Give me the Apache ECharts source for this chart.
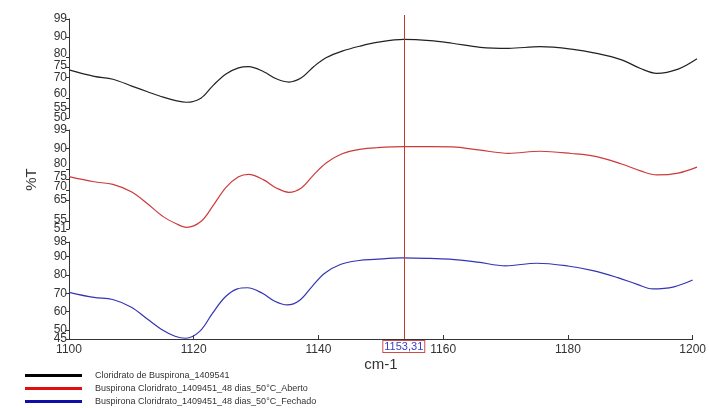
<!DOCTYPE html>
<html><head><meta charset="utf-8">
<script src="https://cdn.jsdelivr.net/npm/echarts@6/dist/echarts.min.js"></script>
<style>html,body{margin:0;padding:0;background:#fff}#c{width:709px;height:408px}</style>
</head><body><div id="c"></div>
<script>
const wavenumbers = [1100,1104,1107,1110,1112.5,1115,1117,1118.7,1121,1123,1125,1127,1128.6,1131,1133,1135,1137,1139,1141,1143.5,1146.5,1149,1153.3,1157.5,1161,1165.5,1170,1175,1180,1184,1188,1191,1193.6,1197,1200];
const blackT = [73.8,70.6,69.2,65.8,63.0,60.3,58.6,57.8,59.8,66.3,71.8,74.8,75.4,72.9,69.4,67.8,69.9,75.5,79.9,83.1,85.7,87.4,88.9,88.3,87.0,85.0,84.5,85.3,84.1,82.0,78.8,74.5,72.1,74.2,79.3];
const redT = [76.4,73.9,72.6,68.9,63.2,57.0,53.7,51.8,54.6,62.6,71.2,76.3,77.5,74.8,70.9,68.8,70.9,77.4,83.1,87.5,89.7,90.4,90.9,90.9,90.8,89.2,87.7,88.7,87.6,86.1,82.5,79.2,77.2,78.1,81.0];
const blueT = [70.5,67.7,66.6,62.4,56.1,49.9,46.5,45.4,49.3,59.0,67.8,72.4,73.0,70.0,65.6,63.6,66.2,73.8,80.9,85.7,87.9,88.5,89.3,89.1,88.6,87.0,85.0,86.4,84.9,82.4,78.5,75.0,72.4,73.5,77.2];
const seriesNames = ['Cloridrato de Buspirona_1409541','Buspirona Cloridrato_1409451_48 dias_50°C_Aberto','Buspirona Cloridrato_1409451_48 dias_50°C_Fechado'];
const yTicksTop = [50,55,60,70,75,80,90,99];
const yTicksMid = [51,55,65,70,75,80,90,99];
const yTicksBot = [45,50,60,70,80,90,98];
const yCrowdedTop = [55];
const yCrowdedMid = [55];
const yCrowdedBot = [50];
const xTicks = [1100,1120,1140,1160,1180,1200];
const markerX = 1153.31;
const markerLabel = '1153,31';

const pair = arr => wavenumbers.map((x,i)=>[x,arr[i]]);
const font = 'Arial, "Liberation Sans", sans-serif';
// label nudges (px upward) to mimic the reference's label placement
const nudgeTop = {80:4,75:2,60:4};
const nudgeMid = {80:6,75:3,70:3};
const rich = {};
[2,3,4,5,6,8,10,12].forEach(p=>{rich['u'+p]={padding:[0,0,p,0],fontSize:12,lineHeight:8,color:'#333',fontFamily:font};});
function yAx(idx,min,max,ticks,crowded,nudge,extra){
  const main = ticks.filter(t=>crowded.indexOf(t)<0);
  return Object.assign({type:'value',gridIndex:idx,min:min,max:max,position:'left',
    axisLine:{show:true,lineStyle:{color:'#333',width:1}},
    axisTick:{show:true,inside:false,length:3,customValues:ticks,lineStyle:{color:'#333'}},
    axisLabel:{customValues:main,margin:2,fontSize:12,lineHeight:8,color:'#333',fontFamily:font,
      showMinLabel:true,showMaxLabel:true,hideOverlap:false,
      rich:rich,
      formatter:v=>{const n=nudge&&nudge[v];return n?('{u'+(2*n)+'|'+v+'}'):String(v);}},
    splitLine:{show:false}},extra||{});
}
function yAxExtra(idx,min,max,vals,nudge){
  return {type:'value',gridIndex:idx,min:min,max:max,position:'left',offset:0,
    axisLine:{show:false},axisTick:{show:false},splitLine:{show:false},
    axisLabel:{customValues:vals,margin:2,fontSize:12,lineHeight:8,color:'#333',fontFamily:font,rich:rich,
      formatter:v=>{const n=nudge&&nudge[v];return n?('{u'+(2*n)+'|'+v+'}'):String(v);}}};
}
const legendRow = (i,top,color)=>({orient:'horizontal',left:25,top:top,padding:0,itemWidth:57,itemHeight:3,icon:'rect',
  textStyle:{fontSize:9,color:'#333',fontFamily:font,padding:[0,0,0,8]},
  data:[{name:seriesNames[i],itemStyle:{color:color}}]});
const chart = echarts.init(document.getElementById('c'));
chart.setOption({
  animation:false,
  grid:[
    {left:69,right:12,top:19,height:99},
    {left:69,right:12,top:130,height:99},
    {left:69,right:12,top:242,height:97},
    {left:69,right:12,top:15,height:324}
  ],
  xAxis:[
    {type:'value',gridIndex:0,min:1100,max:1200,show:false},
    {type:'value',gridIndex:1,min:1100,max:1200,show:false},
    {type:'value',gridIndex:2,min:1100,max:1200,interval:20,
      axisLine:{lineStyle:{color:'#333'}},
      axisTick:{inside:true,length:4,lineStyle:{color:'#333'}},
      axisLabel:{customValues:xTicks,fontSize:12,color:'#333',margin:5,fontFamily:font,formatter:v=>String(v)},
      splitLine:{show:false},
      name:'cm-1',nameLocation:'middle',nameGap:17,
      nameTextStyle:{fontSize:15,color:'#333',fontFamily:font}},
    {type:'value',gridIndex:3,min:1100,max:1200,show:false}
  ],
  yAxis:[
    yAx(0,50,99,yTicksTop,yCrowdedTop,nudgeTop),
    yAx(1,51,99,yTicksMid,yCrowdedMid,nudgeMid,{name:'%T',nameLocation:'middle',nameGap:30,nameRotate:90,
      nameTextStyle:{fontSize:15,color:'#333',fontFamily:font}}),
    yAx(2,45,98,yTicksBot,yCrowdedBot,null),
    {type:'value',gridIndex:3,min:0,max:1,show:false},
    yAxExtra(0,50,99,yCrowdedTop,null),
    yAxExtra(1,51,99,yCrowdedMid,{55:1}),
    yAxExtra(2,45,98,yCrowdedBot,null)
  ],
  legend:[
    legendRow(0,371,'#000'),
    legendRow(1,384,'#e01010'),
    legendRow(2,397,'#1010a8')
  ],
  series:[
    {name:seriesNames[0],type:'line',xAxisIndex:0,yAxisIndex:0,data:pair(blackT),smooth:0.35,symbol:'none',
      lineStyle:{color:'#222',width:1.2},itemStyle:{color:'#000'}},
    {name:seriesNames[1],type:'line',xAxisIndex:1,yAxisIndex:1,data:pair(redT),smooth:0.35,symbol:'none',
      lineStyle:{color:'#cc3b3b',width:1.2},itemStyle:{color:'#e01010'}},
    {name:seriesNames[2],type:'line',xAxisIndex:2,yAxisIndex:2,data:pair(blueT),smooth:0.35,symbol:'none',
      lineStyle:{color:'#3434b4',width:1.2},itemStyle:{color:'#1010a8'}},
    {name:'marker',type:'line',xAxisIndex:3,yAxisIndex:3,data:[[1100,0.5]],symbol:'none',
      lineStyle:{width:0,opacity:0},silent:true,
      markLine:{silent:true,symbol:['none','none'],animation:false,
        lineStyle:{color:'#c0392b',type:'solid',width:1},
        label:{show:true,position:'start',distance:2,formatter:markerLabel,color:'#3a3acc',fontSize:11,
          fontFamily:font,backgroundColor:'#fff',borderColor:'#d04a4a',borderWidth:1,padding:[0,1]},
        data:[{xAxis:markerX}]}}
  ]
});
</script></body></html>
